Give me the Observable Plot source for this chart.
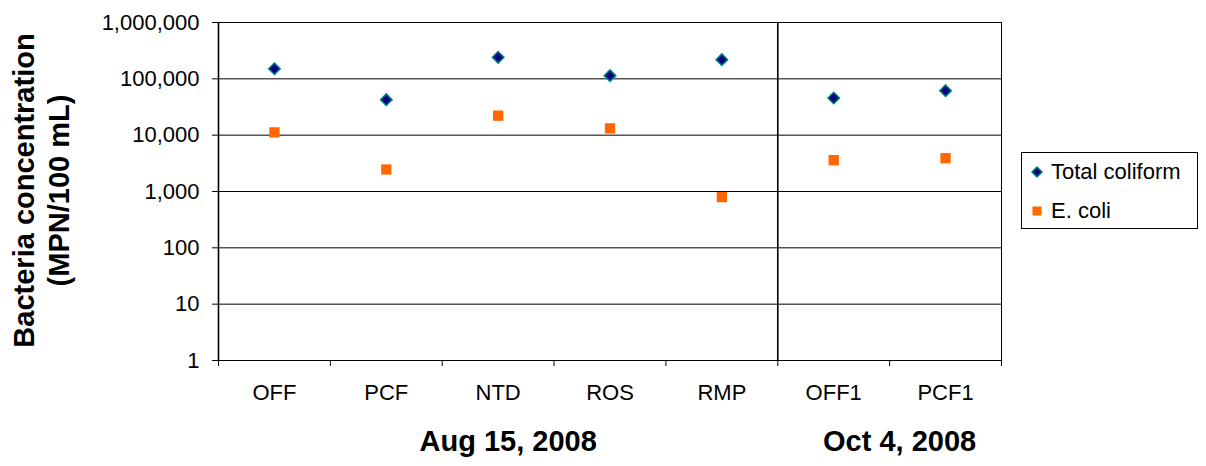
<!DOCTYPE html>
<html><head><meta charset="utf-8">
<script src="https://cdn.jsdelivr.net/npm/d3@7"></script>
<script src="https://cdn.jsdelivr.net/npm/@observablehq/plot@0.6"></script>
<style>
body{margin:0;background:#fff;font-family:"Liberation Sans",Arial,sans-serif;}
#wrap{position:relative;width:1206px;height:466px;overflow:hidden;}
#legend{position:absolute;left:1021px;top:152px;width:177px;height:77px;border:1px solid #000;box-sizing:border-box;font-size:22px;color:#000;}
#legend .item{position:absolute;left:0;display:flex;align-items:center;height:30px;}
#legend svg{margin-left:8px;margin-right:7px;}
</style></head><body><div id="wrap"></div>
<script>
const categories = ["OFF","PCF","NTD","ROS","RMP","OFF1","PCF1"];
const groupLabels = ["Aug 15, 2008","Oct 4, 2008"];
const groupSizes = [5, 2];
const seriesNames = ["Total coliform","E. coli"];
const totalColiform = [151000, 42700, 241000, 114000, 219000, 45600, 61600];
const eColi = [11200, 2460, 22200, 13200, 796, 3600, 3900];
const yTicks = [1, 10, 100, 1000, 10000, 100000, 1000000];
const yTitle = ["Bacteria concentration", "(MPN/100 mL)"];

const rows = categories.map((c, i) => ({i, c, tc: totalColiform[i], ec: eColi[i]}));
const boundaries = d3.range(categories.length + 1);
let acc = 0;
const groupRows = groupLabels.map((g, k) => {
  const s = acc; acc += groupSizes[k];
  return {label: g, start: s, end: acc, mid: (s + acc) / 2};
});

const diamond = {
  draw(ctx, size) {
    const h = Math.sqrt(size / 2);
    ctx.moveTo(0, -h); ctx.lineTo(h, 0); ctx.lineTo(0, h); ctx.lineTo(-h, 0); ctx.closePath();
  }
};

const chart = Plot.plot({
  width: 1206, height: 466,
  marginLeft: 218, marginRight: 205, marginTop: 22, marginBottom: 106,
  style: {fontFamily: "'Liberation Sans', Arial, sans-serif", fontSize: "22px", color: "#000", background: "#fff"},
  x: {type: "linear", domain: [0, categories.length]},
  y: {type: "log", domain: [1, 1e6]},
  marks: [
    Plot.ruleY(yTicks, {stroke: "#000", strokeWidth: 1}),
    Plot.ruleX([categories.length], {stroke: "#000", strokeWidth: 1}),
    Plot.ruleX(groupRows.slice(1), {x: "start", stroke: "#000", strokeWidth: 1.6}),
    Plot.ruleX([0], {stroke: "#000", strokeWidth: 1.6}),
    Plot.axisY({ticks: yTicks, tickFormat: d3.format(","), tickSize: 6, tickPadding: 13, label: null, stroke: "#000"}),
    Plot.axisX({ticks: boundaries, tickFormat: () => "", tickSize: 6, label: null, stroke: "#000"}),
    Plot.axisX({ticks: categories.map((c, i) => i + 0.5), tickFormat: v => categories[Math.floor(v)], tickSize: 0, tickPadding: 24, label: null}),
    Plot.dot(rows, {x: d => d.i + 0.5, y: "ec", symbol: "square", r: 5.8, fill: "#FF6600", stroke: "none"}),
    Plot.dot(rows, {x: d => d.i + 0.5, y: "tc", symbol: diamond, r: 4.6, fill: "#000080", stroke: "#008080", strokeWidth: 1.5}),
    Plot.text(groupRows, {x: "mid", text: "label", frameAnchor: "bottom", dy: 90, dx: 10, fontWeight: "bold", fontSize: 29}),
    Plot.text([yTitle[0]], {text: d => d, frameAnchor: "left", textAnchor: "middle", dx: -185, dy: -1, rotate: -90, lineAnchor: "bottom", fontWeight: "bold", fontSize: 29}),
    Plot.text([yTitle[1]], {text: d => d, frameAnchor: "left", textAnchor: "middle", dx: -150, dy: -1, rotate: -90, lineAnchor: "bottom", fontWeight: "bold", fontSize: 29})
  ]
});

const wrap = document.getElementById("wrap");
wrap.appendChild(chart);

const legend = document.createElement("div");
legend.id = "legend";
const legendSymbols = [
  '<svg width="14" height="14" viewBox="-7 -7 14 14"><path d="M0,-5L5,0L0,5L-5,0Z" fill="#000080" stroke="#008080" stroke-width="1.5"/></svg>',
  '<svg width="14" height="14" viewBox="-7 -7 14 14"><rect x="-4.5" y="-4.5" width="9" height="9" fill="#FF6600"/></svg>'
];
seriesNames.forEach((name, k) => {
  const item = document.createElement("div");
  item.className = "item";
  item.style.top = (4 + k * 39) + "px";
  item.innerHTML = legendSymbols[k] + "<span>" + name + "</span>";
  legend.appendChild(item);
});
wrap.appendChild(legend);
</script>
</body></html>
